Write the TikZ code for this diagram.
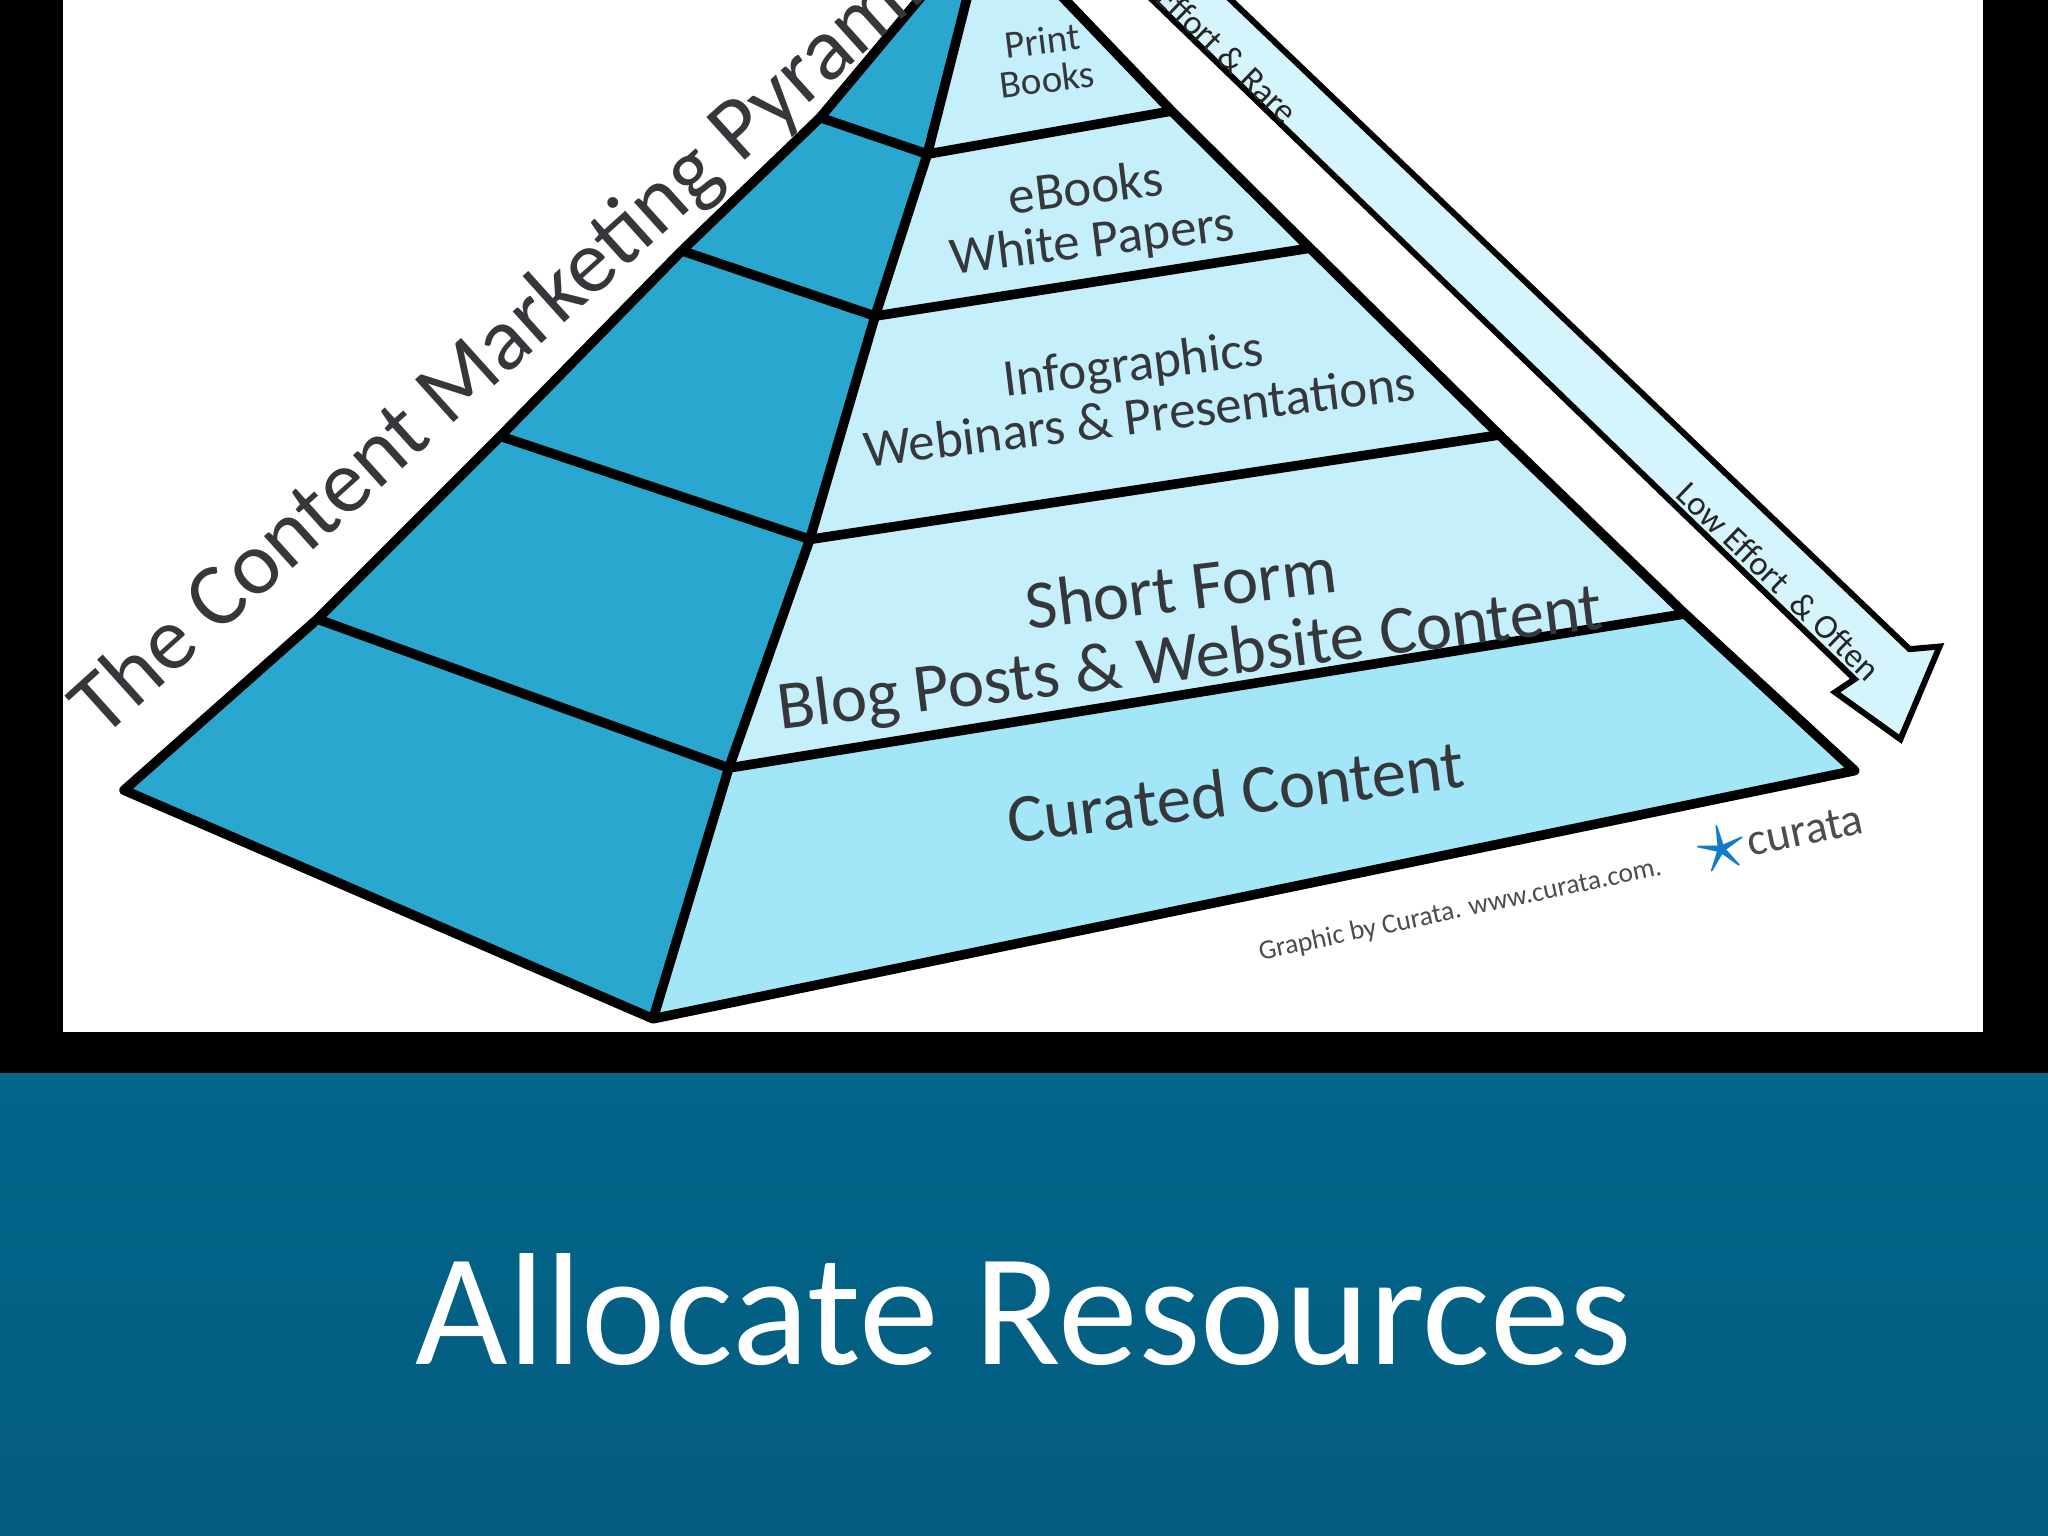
\documentclass[tikz,border=0pt]{standalone}
\usepackage{fontspec}
\setmainfont{Carlito}
\begin{document}
\begin{tikzpicture}[x=0.01cm,y=-0.01cm,
  lbl/.style={text=black!80!cyan!60!black, align=center, inner sep=0pt, font=\fontsize{#1}{#1*1.05}\selectfont},
  edge/.style={line width=2.1pt, line join=round}]
\definecolor{dark}{HTML}{2AA7CF}
\definecolor{light}{HTML}{C4EFFB}
\definecolor{bottomc}{HTML}{A3E6F8}
\definecolor{band}{HTML}{02658A}
\definecolor{band2}{HTML}{035C80}
\useasboundingbox (0,0) rectangle (1568,1176);
\fill[black] (0,0) rectangle (1568,822);
\shade[top color=band, bottom color=band2] (0,822) rectangle (1568,1176);
\fill[white] (48,0) rectangle (1518,790);
\begin{scope}
\clip (48,0) rectangle (1518,790);
% key points
\coordinate (ltop) at (710,-8);
\coordinate (rtop) at (742,-8);
\coordinate (etop) at (808,-8);
\coordinate (bl) at (95,605);
\coordinate (bf) at (500,780);
\coordinate (br) at (1420,590);
\coordinate (r1) at (710,118); \coordinate (e1) at (897,85); \coordinate (l1) at (628,90);
\coordinate (r2) at (670,242); \coordinate (e2) at (1003,190); \coordinate (l2) at (522,192);
\coordinate (r3) at (620,413); \coordinate (e3) at (1148,333); \coordinate (l3) at (383,334);
\coordinate (r4) at (558,588); \coordinate (e4) at (1290,470); \coordinate (l4) at (243,474);
% faces
\fill[dark] (ltop) -- (l1) -- (l2) -- (l3) -- (l4) -- (bl) -- (bf) -- (r4) -- (r3) -- (r2) -- (r1) -- (rtop) -- cycle;
\fill[light] (rtop) -- (r1) -- (r2) -- (r3) -- (r4) -- (bf) -- (br) -- (e4) -- (e3) -- (e2) -- (e1) -- (etop) -- cycle;
\fill[bottomc] (r4) -- (bf) -- (br) -- (e4) -- cycle;
% arrow
\fill[light!70!white] (872,-10) -- (1420,520) -- (1405,530) -- (1455,566) -- (1485,495) -- (1462,497) -- (932,-10) -- cycle;
\draw[line width=1.3pt, line join=miter] (872,-10) -- (1420,520) -- (1405,530) -- (1455,566) -- (1485,495) -- (1462,497) -- (932,-10);
% edges
\draw[edge] (ltop) -- (l1) -- (l2) -- (l3) -- (l4) -- (bl) -- (bf) -- (br) -- (e4) -- (e3) -- (e2) -- (e1) -- (etop);
\draw[edge] (rtop) -- (r1) -- (r2) -- (r3) -- (r4) -- (bf);
\draw[edge] (l1) -- (r1) -- (e1);
\draw[edge] (l2) -- (r2) -- (e2);
\draw[edge] (l3) -- (r3) -- (e3);
\draw[edge] (l4) -- (r4) -- (e4);
% labels
\node[lbl=8.5pt, rotate=7] (t1) at (800,46) {Print\\Books};
\node[lbl=11.5pt, rotate=7] (t2) at (834,166) {eBooks\\White Papers};
\node[lbl=11.5pt, rotate=7] (t3) at (870,298) {Infographics\\Webinars \& Presentations};
\node[lbl=15pt, rotate=7] (t4) at (908,480) {Short Form\\Blog Posts \& Website Content};
\node[lbl=15pt, rotate=7] (t5) at (946,606) {Curated Content};
\node[lbl=19.5pt, rotate=42, anchor=south west] (title) at (86,576) {The Content Marketing Pyramid};
\node[lbl=7.5pt, rotate=-44, text=black!85] (a1) at (940,42) {Effort \& Rare};
\node[lbl=7.5pt, rotate=-44, text=black!85] (a2) at (1362,445) {Low Effort \ \& Often};
\node[lbl=6pt, rotate=12, text=black!70] (cr) at (1118,697) {Graphic by Curata. www.curata.com.};
\node[lbl=10pt, rotate=12, text=black!70] (cu) at (1382,636) {curata};
\node[text=cyan!60!blue, font=\fontsize{22pt}{22pt}\selectfont, inner sep=0pt, rotate=12] (st) at (1318,650) {$\star$};
\end{scope}
\node[text=white, font=\fontsize{34.8pt}{36pt}\selectfont, inner sep=0pt] (main) at (784,1003) {Allocate Resources};
\end{tikzpicture}
\end{document}
